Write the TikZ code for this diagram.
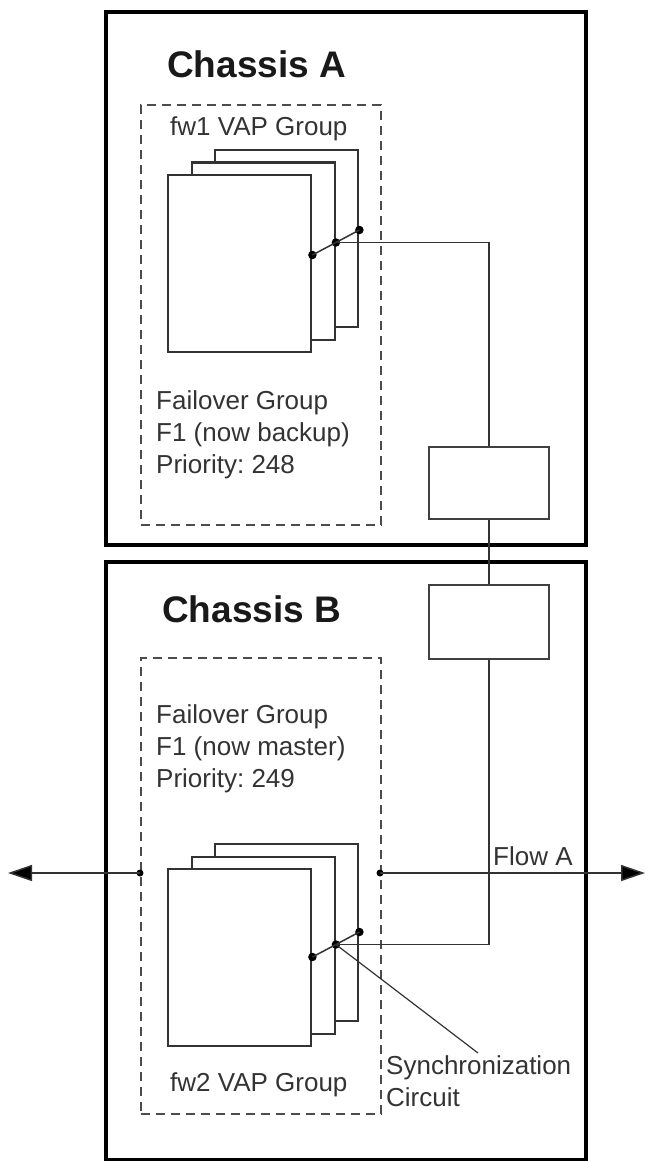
\documentclass[tikz,border=0pt]{standalone}
\usepackage{fontspec}
\setmainfont{Liberation Sans}
\usepackage{tikz}
\usetikzlibrary{arrows.meta,positioning,calc}
\usepackage[dvipsnames,svgnames]{xcolor}
\frenchspacing

\tikzset{
  chassis/.style={draw=black,line width=4pt,anchor=north west,inner sep=0pt,minimum width=480pt},
  vapgroup/.style={draw=black!70,dash pattern=on 9pt off 6pt,line width=1.8pt,anchor=north west,inner sep=0pt,minimum width=240pt},
  member/.style={draw=black!80,line width=2.4pt,fill=white,anchor=north west,inner sep=0pt,minimum width=143pt,minimum height=177pt},
  syncbox/.style={draw=black!75,line width=1.5pt,anchor=north west,inner sep=0pt,minimum width=120pt},
  txt/.style={font=\fontsize{26}{32}\selectfont,text=black!80,inner sep=0pt,align=left},
  title/.style={font=\fontsize{37}{44}\selectfont\bfseries,text=black!90,inner sep=0pt,anchor=base west},
  wire/.style={draw=black!80,line width=1.5pt},
  junction/.style={circle,fill=black,inner sep=0pt,minimum size=8.5pt}
}

\begin{document}
\begin{tikzpicture}[x=1pt,y=-1pt]
  \useasboundingbox (0,0) rectangle (653,1161);
  % Chassis frames
  \node[chassis,minimum height=533pt] (cha) at (104,10) {};
  \node[chassis,minimum height=598pt] (chb) at (104,560) {};
  \node[title] (ttla) at (167,78) {Chassis A};
  \node[title] (ttlb) at (162,622) {Chassis B};
  % Failover groups
  \node[vapgroup,minimum height=420pt] (ga) at (140,104) {};
  \node[vapgroup,minimum height=456pt] (gb) at (140,657) {};
  \node[txt,anchor=base west] (vapa) at (170,136) {fw1 VAP Group};
  \node[txt,anchor=north west] (foa) at (156,390) {Failover Group\\F1 (now backup)\\Priority: 248};
  \node[txt,anchor=north west] (fob) at (156,704) {Failover Group\\F1 (now master)\\Priority: 249};
  \node[txt,anchor=base west] (vapb) at (170,1091) {fw2 VAP Group};
  % Stacked VAP members
  \foreach \i in {2,1,0}{
    \node[member] (fa\i) at ({167+23.5*\i},{174-12.5*\i}) {};
  }
  \foreach \i in {2,1,0}{
    \node[member] (fb\i) at ({167+23.5*\i},{868-12.5*\i}) {};
  }
  % Sync switch contacts
  \foreach \i in {0,1,2}{
    \path (fa\i.north east) ++(0,81) node[junction] (da\i) {};
    \path (fb\i.north east) ++(0,89) node[junction] (db\i) {};
  }
  \draw[wire] (da0.center) -- (da2.center);
  \draw[wire] (db0.center) -- (db2.center);
  % Sync boxes and link
  \node[syncbox,minimum height=72pt] (sa) at (428,446) {};
  \node[syncbox,minimum height=74pt] (sb) at (428,584) {};
  \draw[wire] (da1.center) -| (sa.north);
  \draw[wire] (sa.south) -- (sb.north);
  \draw[wire] (sb.south) |- (db1.center);
  % Traffic flow
  \node[junction,minimum size=7pt] (fl) at (140,873) {};
  \node[junction,minimum size=7pt] (fr) at (380,873) {};
  \coordinate (wl) at (8,873);
  \coordinate (wr) at (645,873);
  \draw[wire,-{Triangle[length=24pt,width=16pt,fill=black]}] (fl.center) -- (wl);
  \draw[wire,-{Triangle[length=24pt,width=16pt,fill=black]}] (fr.center) -- (wr);
  \node[txt,anchor=base west] (flow) at (493,865) {Flow A};
  % Callout
  \coordinate (sc) at (478,1053);
  \draw[wire,line width=1.2pt] (db1.center) -- (sc);
  \node[txt,anchor=north west] (sync) at (386,1055) {Synchronization\\Circuit};
\end{tikzpicture}
\end{document}
